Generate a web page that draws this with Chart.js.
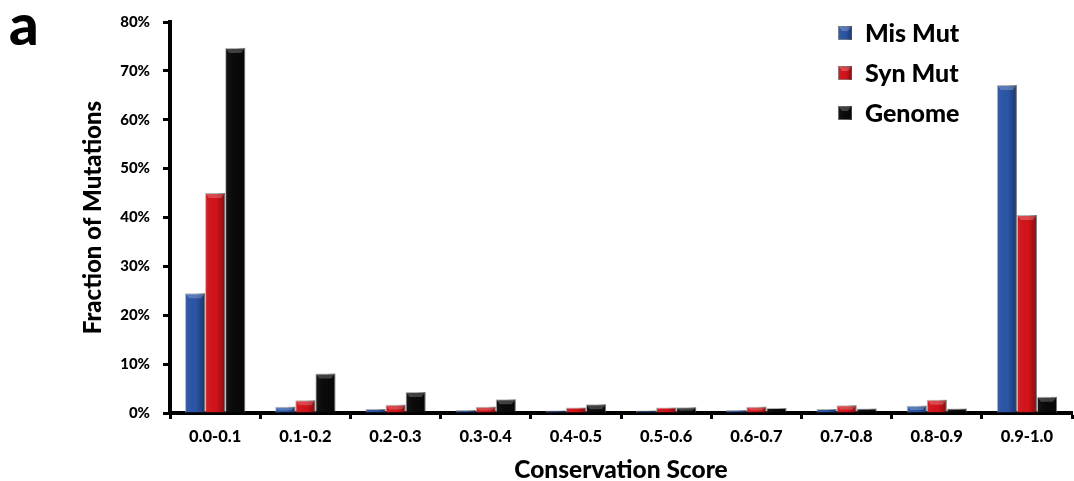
<!DOCTYPE html>
<html>
<head>
<meta charset="utf-8">
<script src="https://cdn.jsdelivr.net/npm/chart.js@4.4.1/dist/chart.umd.min.js"></script>
<style>
  html, body { margin: 0; padding: 0; background: #fff; }
  #wrap { width: 1074px; height: 481px; position: relative; }
</style>
</head>
<body>
<div id="wrap"><canvas id="chart" width="1074" height="481"></canvas></div>
<script>
const categories = ['0.0-0.1', '0.1-0.2', '0.2-0.3', '0.3-0.4', '0.4-0.5',
                    '0.5-0.6', '0.6-0.7', '0.7-0.8', '0.8-0.9', '0.9-1.0'];
const misMut  = [24.5, 1.3, 0.8, 0.6, 0.5, 0.5, 0.6, 0.8, 1.5, 67.1];
const synMut  = [45.0, 2.6, 1.7, 1.3, 1.1, 1.1, 1.3, 1.6, 2.7, 40.5];
const genome  = [74.7, 8.1, 4.3, 2.8, 1.8, 1.2, 1.0, 0.9, 0.9, 3.3];
const yTicks  = [0, 10, 20, 30, 40, 50, 60, 70, 80];

const FONT = 'Lato, "Open Sans", sans-serif';
const W = 900;
const SERIES = [
  { label: 'Mis Mut', data: misMut, color: '#2b55a6' },
  { label: 'Syn Mut', data: synMut, color: '#d2141b' },
  { label: 'Genome',  data: genome, color: '#0a0a0a' }
];

// shading + bevelled cap on each bar, like a 3D office-chart column
function shadeBox(ctx, left, top, w, h) {
  const g = ctx.createLinearGradient(left, 0, left + w, 0);
  g.addColorStop(0, 'rgba(255,255,255,0.06)');
  g.addColorStop(0.55, 'rgba(0,0,0,0)');
  g.addColorStop(1, 'rgba(0,0,0,0.38)');
  ctx.fillStyle = g;
  ctx.fillRect(left, top, w, h);
  if (h > 5) {
    const d = Math.min(4, h / 2);
    ctx.beginPath();
    ctx.moveTo(left + 1, top + 1);
    ctx.lineTo(left + w - 1, top + 1);
    ctx.lineTo(left + w - 4, top + d + 1);
    ctx.lineTo(left + 4, top + d + 1);
    ctx.closePath();
    ctx.fillStyle = 'rgba(255,255,255,0.22)';
    ctx.fill();
  }
}

const bevel = {
  id: 'bevel',
  afterDatasetsDraw(chart) {
    const ctx = chart.ctx;
    ctx.save();
    chart.data.datasets.forEach((ds, i) => {
      chart.getDatasetMeta(i).data.forEach(bar => {
        const p = bar.getProps(['x', 'y', 'base', 'width'], true);
        shadeBox(ctx, p.x - p.width / 2, p.y, p.width, p.base - p.y);
      });
    });
    ctx.restore();
  }
};

// panel letter and the legend in the top-right corner
const extras = {
  id: 'extras',
  afterDraw(chart) {
    const ctx = chart.ctx;
    ctx.save();
    ctx.fillStyle = '#000';
    ctx.font = W + ' 58px ' + FONT;
    ctx.textAlign = 'left';
    ctx.textBaseline = 'alphabetic';
    ctx.fillText('a', 9, 45);

    ctx.font = W + ' 25px ' + FONT;
    ctx.textBaseline = 'middle';
    chart.data.datasets.forEach((ds, i) => {
      const y = 33 + i * 40;
      ctx.fillStyle = ds.backgroundColor;
      ctx.fillRect(838, y - 7, 14, 14);
      ctx.strokeStyle = 'rgba(140,140,140,0.7)';
      ctx.lineWidth = 1;
      ctx.strokeRect(838.5, y - 6.5, 13, 13);
      shadeBox(ctx, 838, y - 7, 14, 14);
      ctx.fillStyle = '#000';
      ctx.fillText(ds.label, 865, y + 1);
    });
    ctx.restore();
  }
};

new Chart(document.getElementById('chart'), {
  type: 'bar',
  data: {
    labels: categories,
    datasets: SERIES.map(s => ({
      label: s.label,
      data: s.data,
      backgroundColor: s.color,
      borderColor: 'rgba(150,150,150,0.7)',
      borderWidth: 1,
      categoryPercentage: 0.667,
      barPercentage: 1.0
    }))
  },
  options: {
    responsive: false,
    animation: false,
    layout: { padding: { left: 0, right: 2, top: 19, bottom: 0 } },
    plugins: { legend: { display: false }, tooltip: { enabled: false } },
    scales: {
      x: {
        afterFit: s => { s.height = 68; },
        border: { color: '#000', width: 4 },
        grid: { display: true, drawOnChartArea: false, offset: true,
                tickLength: 6, tickWidth: 3, tickColor: '#000' },
        ticks: { color: '#000', padding: 8, font: { family: FONT, size: 16.5, weight: W } },
        title: { display: true, text: 'Conservation Score', color: '#000',
                 font: { family: FONT, size: 24.5, weight: W, lineHeight: 1 },
                 padding: { top: 0, bottom: -1 } }
      },
      y: {
        min: 0, max: 80,
        afterFit: s => { s.width = 170; },
        afterBuildTicks: s => { s.ticks = yTicks.map(v => ({ value: v })); },
        border: { color: '#000', width: 4 },
        grid: { display: true, drawOnChartArea: false,
                tickLength: 7, tickWidth: 3, tickColor: '#000' },
        ticks: { color: '#000', padding: 13, callback: v => v + '%',
                 font: { family: FONT, size: 15, weight: W } },
        title: { display: true, text: 'Fraction of Mutations', color: '#000',
                 font: { family: FONT, size: 24, weight: W },
                 padding: { top: 79, bottom: 0 } }
      }
    }
  },
  plugins: [bevel, extras]
});
</script>
</body>
</html>
